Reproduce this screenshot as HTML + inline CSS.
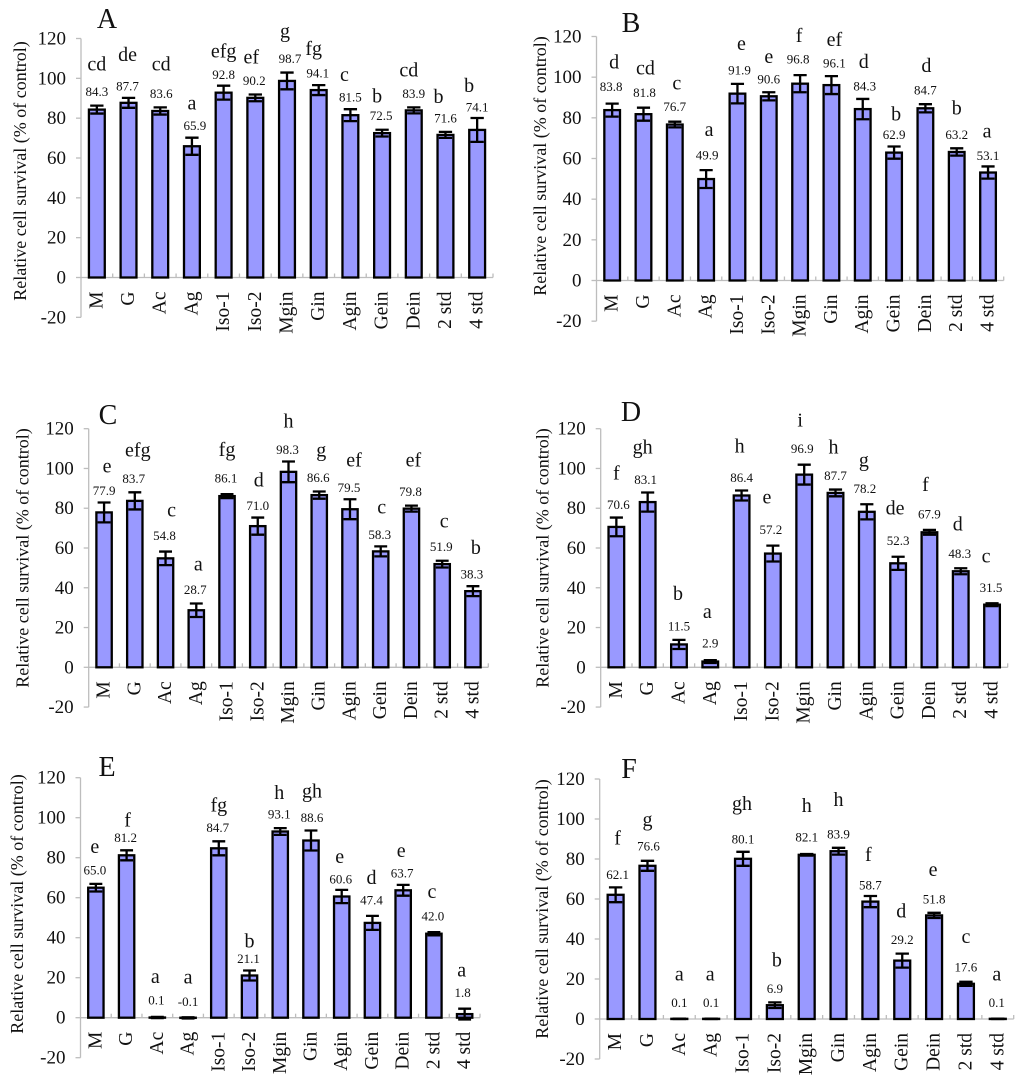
<!DOCTYPE html>
<html lang="en">
<head>
<meta charset="utf-8">
<title>Relative cell survival panels A to F</title>
<style>
html,body{margin:0;padding:0;background:#fff;}
body{width:1024px;height:1083px;overflow:hidden;}
svg{display:block;filter:blur(0.35px);}
text{font-family:"Liberation Serif","Times New Roman",serif;fill:#111;}
</style>
</head>
<body>
<svg id="figure" width="1024" height="1083" viewBox="0 0 1024 1083" xmlns="http://www.w3.org/2000/svg"></svg>
<script>
// Shared chart data
const categories = ["M","G","Ac","Ag","Iso-1","Iso-2","Mgin","Gin","Agin","Gein","Dein","2 std","4 std"];
const yTicks = [120,100,80,60,40,20,0,-20];
const yTitle = "Relative cell survival (% of control)";

// Panel A
const valuesA = [84.3,87.7,83.6,65.9,92.8,90.2,98.7,94.1,81.5,72.5,83.9,71.6,74.1];
const errorsA = [2,2.5,1.8,4.3,3.5,1.7,4.2,2.5,3,1.7,1.5,1.5,6];
const lettersA = ["cd","de","cd","a","efg","ef","g","fg","c","b","cd","b","b"];
// Panel B
const valuesB = [83.8,81.8,76.7,49.9,91.9,90.6,96.8,96.1,84.3,62.9,84.7,63.2,53.1];
const errorsB = [3.2,3.2,1.4,4.4,4.8,2,4.2,4.4,5,3,2,1.8,3];
const lettersB = ["d","cd","c","a","e","e","f","ef","d","b","d","b","a"];
// Panel C
const valuesC = [77.9,83.7,54.8,28.7,86.1,71.0,98.3,86.6,79.5,58.3,79.8,51.9,38.3];
const errorsC = [5,4.3,3.4,3.4,1,4.3,5.2,1.8,5,2.5,1.5,1.7,2.5];
const lettersC = ["e","efg","c","a","fg","d","h","g","ef","c","ef","c","b"];
// Panel D
const valuesD = [70.6,83.1,11.5,2.9,86.4,57.2,96.9,87.7,78.2,52.3,67.9,48.3,31.5];
const errorsD = [4.7,4.8,2.3,0.7,2.5,4,5,1.7,3.8,3.3,1.2,1.5,0.7];
const lettersD = ["f","gh","b","a","h","e","i","h","g","de","f","d","c"];
// Panel E
const valuesE = [65.0,81.2,0.1,-0.1,84.7,21.1,93.1,88.6,60.6,47.4,63.7,42.0,1.8];
const errorsE = [1.9,2.5,0.3,0.3,3.5,2.5,1.7,5,3.3,3.5,2.7,0.8,2.7];
const lettersE = ["e","f","a","a","fg","b","h","gh","e","d","e","c","a"];
// Panel F
const valuesF = [62.1,76.6,0.1,0.1,80.1,6.9,82.1,83.9,58.7,29.2,51.8,17.6,0.1];
const errorsF = [3.7,2.5,0.1,0.1,3.5,1.4,0.4,1.7,2.8,3.5,1.3,1,0.1];
const lettersF = ["f","g","a","a","gh","b","h","h","f","d","e","c","a"];

// Annotation placement nudges (layout only, relative to each bar)
const labelGapA = [14,12,14,12,11,14,14,12,12,14,14,14,11];
const letterGapA = [27,31,29,22,23,23,27,24,22,19,23,21,21];
const labelShiftA = [0,-1,1,3,0,-1,3,-1,0,-1,0,0,0];
const letterShiftA = [0,-1,1,0,0,-4,-2,-5,-6,-5,-5,-7,-8];
const labelGapB = [17,15,15,15,14,13,16,13,13,12,14,14,11];
const letterGapB = [24,24,23,25,26,22,23,23,24,20,24,26,24];
const labelShiftB = [-1,1,0,1,2,0,-2,3,2,0,0,0,0];
const letterShiftB = [2,2,2,3,4,0,-1,3,1,2,1,0,-1];
const labelGapC = [12,14,16,14,16,12,12,14,12,12,14,14,12];
const letterGapC = [24,28,25,25,28,25,28,27,27,27,31,25,26];
const labelShiftC = [0,-1,-1,-1,-1,0,-1,-1,-1,-1,-1,-1,-1];
const letterShiftC = [3,3,6,2,0,1,0,2,4,1,2,2,3];
const labelGapD = [13,13,14,17,13,16,16,14,16,16,16,15,16];
const letterGapD = [31,32,32,31,31,32,28,28,28,32,29,29,31];
const labelShiftD = [2,-2,0,0,0,-2,-2,0,-2,0,0,-1,-1];
const letterShiftD = [0,-5,-1,-3,-2,-6,-4,-2,-3,-3,-4,-3,-6];
const labelGapE = [14,13,17,16,14,12,14,13,11,16,12,16,16];
const letterGapE = [23,17,23,24,22,17,21,26,22,22,22,24,22];
const labelShiftE = [-1,-1,-1,0,-1,-1,-1,1,-1,-1,-1,-1,-2];
const letterShiftE = [-1,1,-2,0,0,0,-1,1,-2,-1,-2,-2,-3];
const labelGapF = [13,15,16,16,13,14,17,14,11,14,14,15,16];
const letterGapF = [36,26,28,28,35,28,31,34,30,28,29,30,28];
const labelShiftF = [2,1,0,0,0,0,0,0,0,0,0,0,-1];
const letterShiftF = [2,0,0,-1,-1,2,0,0,-2,-1,-1,0,-1];

const NS = "http://www.w3.org/2000/svg";
const root = document.getElementById("figure");

function make(parent, tag, attrs, content) {
  const el = document.createElementNS(NS, tag);
  for (const k in attrs) el.setAttribute(k, attrs[k]);
  if (content !== undefined) el.textContent = content;
  parent.appendChild(el);
  return el;
}

function drawPanel(p) {
  const g = make(root, "g", {});
  
  

  const yScale = v => p.y0 - (v / 120) * (p.y0 - p.y120);
  const slot = (p.xRight - p.axisX) / categories.length;
  const xScale = i => p.axisX + slot * (i + 0.5);

  // Panel letter
  const title = make(g, "text", {x: p.titleX, y: p.titleY, "text-anchor": "middle", "font-size": 28}, p.id);
  
  

  // Y axis title
  const yt = make(g, "text", {
    x: 0, y: 0, "text-anchor": "middle", "font-size": 18,
    transform: "translate(" + (p.yTitleX + 6) + " " + p.yTitleY + ") rotate(-90)"
  }, yTitle);
  
  

  // Axes
  const yAxis = make(g, "line", {x1: p.axisX, x2: p.axisX, y1: yScale(120), y2: yScale(-20), stroke: "#bdbdbd", "stroke-width": 1.3});
  
  
  const xAxis = make(g, "line", {x1: p.axisX, x2: p.xRight, y1: p.y0, y2: p.y0, stroke: "#bdbdbd", "stroke-width": 1.3});
  
  

  yTicks.forEach(t => {
    const y = yScale(t);
    const tick = make(g, "line", {x1: p.axisX - 5, x2: p.axisX, y1: y, y2: y, stroke: "#bdbdbd", "stroke-width": 1.3});
    
    
    const lab = make(g, "text", {x: p.axisX - 15, y: y + 6, "text-anchor": "end", "font-size": 19}, String(t));
    
    
  });

  for (let i = 1; i <= categories.length; i++) {
    const x = p.axisX + slot * i;
    const tick = make(g, "line", {x1: x, x2: x, y1: p.y0 - 4, y2: p.y0, stroke: "#bdbdbd", "stroke-width": 1.3});
    
    
  }

  categories.forEach((cat, i) => {
    const cx = xScale(i);
    const v = p.values[i];
    const e = p.errors[i];
    const yv = yScale(v);
    const w = slot * 0.5;

    const bar = make(g, "rect", {
      x: cx - w / 2, y: Math.min(yv, p.y0), width: w, height: Math.abs(p.y0 - yv),
      fill: "#9999ff", stroke: "#000", "stroke-width": 2.3
    });
    
    

    const top = yScale(v + e);
    const bot = yScale(v - e);
    const cap = slot * 0.21;
    const err = make(g, "path", {
      d: "M" + (cx - cap) + " " + top + "H" + (cx + cap) +
         "M" + cx + " " + top + "V" + bot +
         "M" + (cx - cap) + " " + bot + "H" + (cx + cap),
      fill: "none", stroke: "#000", "stroke-width": 2.3
    });
    
    

    const labelCenter = top - p.labelGap[i];
    const val = make(g, "text", {
      x: cx + p.labelShift[i], y: labelCenter + 4.5, "text-anchor": "middle", "font-size": 13
    }, v.toFixed(1));
    
    

    const letter = make(g, "text", {
      x: cx + p.letterShift[i], y: labelCenter - p.letterGap[i] + 6, "text-anchor": "middle", "font-size": 20
    }, p.letters[i]);
    
    

    const catLabel = make(g, "text", {
      x: 0, y: 0, "text-anchor": "end", "font-size": 19.5,
      transform: "translate(" + (cx + 5.5) + " " + (p.y0 + 14) + ") rotate(-90)"
    }, cat);
    
    
  });
}

const panels = [
  {id:"A", axisX:81,    xRight:493,    y120:38.5,  y0:277.5,  titleX:107, titleY:28,  yTitleX:20,    yTitleY:171,
   values:valuesA, errors:errorsA, letters:lettersA, labelGap:labelGapA, letterGap:letterGapA, labelShift:labelShiftA, letterShift:letterShiftA},
  {id:"B", axisX:596.5, xRight:1003.7, y120:36.5,  y0:280.5,  titleX:631, titleY:32,  yTitleX:540,   yTitleY:166,
   values:valuesB, errors:errorsB, letters:lettersB, labelGap:labelGapB, letterGap:letterGapB, labelShift:labelShiftB, letterShift:letterShiftB},
  {id:"C", axisX:88.7,  xRight:488.3,  y120:428.7, y0:667.3,  titleX:108, titleY:424, yTitleX:22.7,  yTitleY:558,
   values:valuesC, errors:errorsC, letters:lettersC, labelGap:labelGapC, letterGap:letterGapC, labelShift:labelShiftC, letterShift:letterShiftC},
  {id:"D", axisX:600.7, xRight:1007.7, y120:428.7, y0:667.3,  titleX:631, titleY:421, yTitleX:542.7, yTitleY:558,
   values:valuesD, errors:errorsD, letters:lettersD, labelGap:labelGapD, letterGap:letterGapD, labelShift:labelShiftD, letterShift:letterShiftD},
  {id:"E", axisX:80.5,  xRight:480,    y120:777.7, y0:1017.7, titleX:107, titleY:776, yTitleX:17,    yTitleY:904,
   values:valuesE, errors:errorsE, letters:lettersE, labelGap:labelGapE, letterGap:letterGapE, labelShift:labelShiftE, letterShift:letterShiftE},
  {id:"F", axisX:599.7, xRight:1013.7, y120:779,   y0:1019,   titleX:629, titleY:778, yTitleX:542,   yTitleY:909,
   values:valuesF, errors:errorsF, letters:lettersF, labelGap:labelGapF, letterGap:letterGapF, labelShift:labelShiftF, letterShift:letterShiftF}
];

panels.forEach(drawPanel);
</script>
</body>
</html>
